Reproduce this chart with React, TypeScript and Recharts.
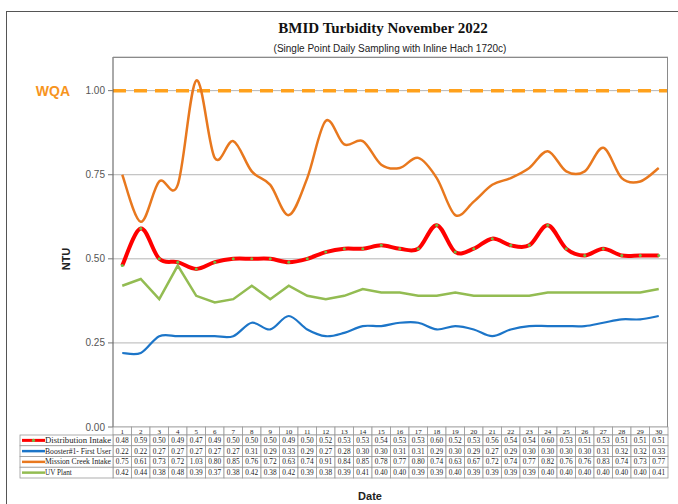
import { CartesianGrid, Line, LineChart, ReferenceLine, XAxis, YAxis } from "recharts";

// day-by-day readings, November 2022 (NTU)
const days = Array.from({ length: 30 }, (_, i) => String(i + 1));
const distribution = [0.48, 0.59, 0.5, 0.49, 0.47, 0.49, 0.5, 0.5, 0.5, 0.49, 0.5, 0.52, 0.53, 0.53, 0.54, 0.53, 0.53, 0.6, 0.52, 0.53, 0.56, 0.54, 0.54, 0.6, 0.53, 0.51, 0.53, 0.51, 0.51, 0.51];
const booster = [0.22, 0.22, 0.27, 0.27, 0.27, 0.27, 0.27, 0.31, 0.29, 0.33, 0.29, 0.27, 0.28, 0.3, 0.3, 0.31, 0.31, 0.29, 0.3, 0.29, 0.27, 0.29, 0.3, 0.3, 0.3, 0.3, 0.31, 0.32, 0.32, 0.33];
const missionCreek = [0.75, 0.61, 0.73, 0.72, 1.03, 0.8, 0.85, 0.76, 0.72, 0.63, 0.74, 0.91, 0.84, 0.85, 0.78, 0.77, 0.8, 0.74, 0.63, 0.67, 0.72, 0.74, 0.77, 0.82, 0.76, 0.76, 0.83, 0.74, 0.73, 0.77];
const uvPlant = [0.42, 0.44, 0.38, 0.48, 0.39, 0.37, 0.38, 0.42, 0.38, 0.42, 0.39, 0.38, 0.39, 0.41, 0.4, 0.4, 0.39, 0.39, 0.4, 0.39, 0.39, 0.39, 0.39, 0.4, 0.4, 0.4, 0.4, 0.4, 0.4, 0.41];
const WQA_LIMIT = 1.0;
const yTicks = [0, 0.25, 0.5, 0.75, 1.0];

const SERIES = [
  { key: "dist", label: "Distribution Intake", values: distribution, color: "#FF0000" },
  { key: "boost", label: "Booster#1- First User", values: booster, color: "#1C75C8" },
  { key: "mc", label: "Mission Creek Intake", values: missionCreek, color: "#E8781E" },
  { key: "uv", label: "UV Plant", values: uvPlant, color: "#93BC52" },
];

const data = days.map((d, i) => ({
  day: d,
  dist: distribution[i],
  boost: booster[i],
  mc: missionCreek[i],
  uv: uvPlant[i],
}));

const W = 678;
const H = 504;
const PLOT_LEFT = 113;
const PLOT_RIGHT = 668;
const PLOT_TOP = 57;
const PLOT_BOTTOM = 427;
const COL_W = (PLOT_RIGHT - PLOT_LEFT) / days.length;
const HEAD_H = 8;
const ROW_H = 10.75;
const LEGEND_LEFT = 20;
const SANS = '"Liberation Sans", Arial, sans-serif';
const SERIF = '"Liberation Serif", "Times New Roman", serif';
const CELL = "#9a9a9a";

/** Excel-ish smoothed line: Catmull-Rom through every point. */
function smoothCurve(context: any) {
  let pts: [number, number][] = [];
  return {
    areaStart() {},
    areaEnd() {},
    lineStart() {
      pts = [];
    },
    point(x: number, y: number) {
      pts.push([+x, +y]);
    },
    lineEnd() {
      if (!pts.length) return;
      context.moveTo(pts[0][0], pts[0][1]);
      for (let i = 0; i < pts.length - 1; i++) {
        const p0 = pts[i - 1] || pts[i];
        const p1 = pts[i];
        const p2 = pts[i + 1];
        const p3 = pts[i + 2] || p2;
        context.bezierCurveTo(
          p1[0] + (p2[0] - p0[0]) / 6,
          p1[1] + (p2[1] - p0[1]) / 6,
          p2[0] - (p3[0] - p1[0]) / 6,
          p2[1] - (p3[1] - p1[1]) / 6,
          p2[0],
          p2[1]
        );
      }
    },
  };
}

function Swatch({ k, x, y, color }: { k: string; x: number; y: number; color: string }) {
  return (
    <g>
      <line x1={x} x2={x + 23} y1={y} y2={y} stroke={color} strokeWidth={k === "dist" ? 3 : 2.5} />
      {k === "dist" && <circle cx={x + 11.5} cy={y} r={1.6} fill="#6DBE45" />}
    </g>
  );
}

/** Each x tick draws its own column of the data table under the plot. */
function TableTick(props: any) {
  const { x, payload } = props;
  const i = payload.index as number;
  const left = x - COL_W / 2;
  const top = PLOT_BOTTOM;
  return (
    <g>
      <rect x={left} y={top} width={COL_W} height={HEAD_H} fill="#fff" stroke={CELL} strokeWidth={0.8} />
      <text x={x} y={top + HEAD_H - 1.5} textAnchor="middle" fontSize={7} fontFamily={SERIF} fill="#222">
        {payload.value}
      </text>
      {SERIES.map((s, r) => {
        const ry = top + HEAD_H + r * ROW_H;
        return (
          <g key={s.key}>
            <rect x={left} y={ry} width={COL_W} height={ROW_H} fill="#fff" stroke={CELL} strokeWidth={0.8} />
            <text x={x} y={ry + ROW_H - 3} textAnchor="middle" fontSize={7.3} fontFamily={SERIF} fill="#222">
              {s.values[i].toFixed(2)}
            </text>
          </g>
        );
      })}
      {i === 0 &&
        SERIES.map((s, r) => {
          const ry = top + HEAD_H + r * ROW_H;
          return (
            <g key={`lg-${s.key}`}>
              <rect x={LEGEND_LEFT} y={ry} width={left - LEGEND_LEFT} height={ROW_H} fill="#fff" stroke={CELL} strokeWidth={0.8} />
              <Swatch k={s.key} x={LEGEND_LEFT + 2} y={ry + ROW_H / 2} color={s.color} />
              <text
                x={LEGEND_LEFT + 25}
                y={ry + ROW_H - 2.8}
                fontSize={7.2}
                fontFamily={SERIF}
                fill="#222"
                textLength={s.label.length > 12 ? left - LEGEND_LEFT - 27 : undefined}
                lengthAdjust="spacingAndGlyphs"
              >
                {s.label}
              </text>
            </g>
          );
        })}
    </g>
  );
}

export default function App() {
  return (
    <div style={{ position: "absolute", left: 0, top: 0, width: W, height: H, overflow: "hidden", background: "#fff" }}>
      <div
        style={{
          position: "absolute",
          left: 6,
          top: 11,
          width: W + 20,
          height: H + 20,
          border: "1.5px solid #555",
        }}
      />
      <div
        style={{
          position: "absolute",
          left: 0,
          width: 766,
          top: 20,
          textAlign: "center",
          fontFamily: SERIF,
          fontWeight: "bold",
          fontSize: 15,
          color: "#111",
        }}
      >
        BMID Turbidity November 2022
      </div>
      <div
        style={{
          position: "absolute",
          left: 0,
          width: 780,
          top: 43,
          textAlign: "center",
          fontFamily: SANS,
          fontSize: 10,
          color: "#222",
        }}
      >
        (Single Point Daily Sampling with Inline Hach 1720c)
      </div>
      <div style={{ position: "absolute", left: 0, top: 0 }}>
        <LineChart
          width={W}
          height={H}
          data={data}
          margin={{ top: PLOT_TOP, right: W - PLOT_RIGHT, bottom: 0, left: 0 }}
        >
          <CartesianGrid vertical={false} stroke="#b5b5b5" strokeWidth={1} />
          <XAxis
            dataKey="day"
            interval={0}
            height={H - PLOT_BOTTOM}
            padding={{ left: COL_W / 2, right: COL_W / 2 }}
            axisLine={false}
            tickLine={false}
            tickSize={0}
            tickMargin={0}
            tick={<TableTick />}
            label={{
              content: () => (
                <text x={370} y={500} textAnchor="middle" fontFamily={SANS} fontWeight="bold" fontSize={11} fill="#222">
                  Date
                </text>
              ),
            }}
          />
          <YAxis
            width={PLOT_LEFT}
            domain={[0, 1.1]}
            ticks={yTicks}
            interval={0}
            tickFormatter={(v) => Number(v).toFixed(2)}
            tick={{ fill: "#555", fontSize: 10, fontFamily: SANS }}
            tickSize={5}
            tickMargin={3}
            tickLine={{ stroke: "#777" }}
            axisLine={{ stroke: "#555" }}
            label={{
              content: () => (
                <text
                  x={70}
                  y={259}
                  transform="rotate(-90 70 259)"
                  textAnchor="middle"
                  fontFamily={SANS}
                  fontWeight="bold"
                  fontSize={11}
                  fill="#222"
                >
                  NTU
                </text>
              ),
            }}
          />
          <ReferenceLine
            y={WQA_LIMIT}
            stroke="#FFA11C"
            strokeWidth={3.5}
            strokeDasharray="13 8"
            label={{
              value: "WQA",
              position: "left",
              offset: 43,
              fill: "#F7941D",
              fontSize: 14,
              fontWeight: "bold",
              fontFamily: SANS,
            }}
          />
          <Line dataKey="uv" type="linear" stroke="#93BC52" strokeWidth={2.5} dot={false} isAnimationActive={false} />
          <Line dataKey="boost" type={smoothCurve as any} stroke="#1C75C8" strokeWidth={2.2} dot={false} isAnimationActive={false} />
          <Line dataKey="mc" type={smoothCurve as any} stroke="#E8781E" strokeWidth={2.5} dot={false} isAnimationActive={false} />
          <Line
            dataKey="dist"
            type={smoothCurve as any}
            stroke="#FF0000"
            strokeWidth={4}
            dot={{ r: 1.5, fill: "#6DBE45", stroke: "none" }}
            isAnimationActive={false}
          />
        </LineChart>
      </div>
      {/* plot frame */}
      <div
        style={{
          position: "absolute",
          left: PLOT_LEFT,
          top: PLOT_TOP,
          width: PLOT_RIGHT - PLOT_LEFT,
          height: PLOT_BOTTOM - PLOT_TOP,
          boxSizing: "border-box",
          borderTop: "1px solid #8a8a8a",
          borderRight: "1px solid #8a8a8a",
          pointerEvents: "none",
        }}
      />
    </div>
  );
}
